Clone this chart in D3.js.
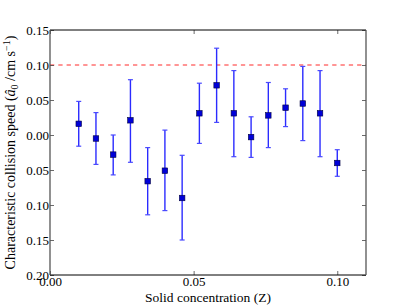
<!DOCTYPE html>
<html>
<head>
<meta charset="utf-8">
<script src="https://cdn.jsdelivr.net/npm/d3@7"></script>
<style>
  body { margin: 0; background: #fff; }
  svg { display: block; }
  svg text { font-family: "Liberation Serif", "Times New Roman", Times, "DejaVu Serif", serif; fill: #000; }
</style>
</head>
<body>
<div id="chart"></div>
<script>
// values
const concentration = [0.010, 0.016, 0.022, 0.028, 0.034, 0.040, 0.046, 0.052,
                       0.058, 0.064, 0.070, 0.076, 0.082, 0.088, 0.094, 0.100];
const speed = [0.016, -0.005, -0.028, 0.021, -0.066, -0.051, -0.090, 0.031,
               0.071, 0.031, -0.003, 0.028, 0.039, 0.045, 0.031, -0.040];
const errLow = [-0.016, -0.042, -0.057, -0.039, -0.114, -0.108, -0.150, -0.012,
                0.018, -0.031, -0.032, -0.018, 0.012, -0.008, -0.031, -0.059];
const errHigh = [0.048, 0.032, 0.000, 0.079, -0.018, 0.007, -0.029, 0.074,
                 0.124, 0.092, 0.026, 0.075, 0.066, 0.098, 0.092, -0.021];
const threshold = 0.10;
const xTicks = [0.00, 0.05, 0.10];
const yTicks = [-0.20, -0.15, -0.10, -0.05, 0.00, 0.05, 0.10, 0.15];

const width = 407, height = 305;
const margin = { left: 50, right: 41, top: 30, bottom: 30 };
const serif = '"Liberation Serif", "Times New Roman", Times, "DejaVu Serif", serif';

const svg = d3.select('#chart')
    .append('svg')
    .attr('width', width)
    .attr('height', height);

const x = d3.scaleLinear().domain([0, 0.11]).range([margin.left, width - margin.right]);
const y = d3.scaleLinear().domain([-0.20, 0.15]).range([height - margin.bottom, margin.top]);

const points = concentration.map((c, i) => ({ c: c, v: speed[i], lo: errLow[i], hi: errHigh[i] }));

// reference line
svg.append('line')
    .attr('x1', x.range()[0]).attr('x2', x.range()[1])
    .attr('y1', y(threshold)).attr('y2', y(threshold))
    .attr('stroke', '#ff2a2a')
    .attr('stroke-width', 1)
    .attr('stroke-dasharray', '4.3,4');

// error bars
const bars = svg.append('g').attr('class', 'errorbars');
bars.selectAll('line.err')
    .data(points)
    .enter()
    .append('line')
    .attr('class', 'err')
    .attr('x1', d => x(d.c)).attr('x2', d => x(d.c))
    .attr('y1', d => y(d.lo)).attr('y2', d => y(d.hi))
    .attr('stroke', '#2b2bff')
    .attr('stroke-width', 1.4);

['lo', 'hi'].forEach(k => {
  bars.selectAll('line.cap-' + k)
      .data(points)
      .enter()
      .append('line')
      .attr('class', 'cap-' + k)
      .attr('x1', d => x(d.c) - 2.5).attr('x2', d => x(d.c) + 2.5)
      .attr('y1', d => y(d[k])).attr('y2', d => y(d[k]))
      .attr('stroke', '#4a4aff')
      .attr('stroke-width', 1.2);
});

// markers
svg.append('g')
    .selectAll('rect')
    .data(points)
    .enter()
    .append('rect')
    .attr('x', d => x(d.c) - 2.75)
    .attr('y', d => y(d.v) - 2.75)
    .attr('width', 5.5)
    .attr('height', 5.5)
    .attr('fill', '#0000d8')
    .attr('stroke', '#000040')
    .attr('stroke-width', 0.6);

// axes (ticks pointing inward on all four sides)
const fmt = d => d3.format('.2f')(Math.abs(d));

const axisStyle = g => {
  g.attr('font-family', serif);
  g.select('.domain').remove();
  g.selectAll('.tick line').attr('stroke', '#444').attr('stroke-width', 0.8);
  g.selectAll('.tick text')
      .style('font-family', serif)
      .attr('font-size', 13)
      .attr('fill', '#000');
};

svg.append('g')
    .attr('transform', `translate(${margin.left},0)`)
    .call(d3.axisLeft(y).tickValues(yTicks).tickFormat(fmt).tickSize(-4).tickPadding(1))
    .call(axisStyle);

svg.append('g')
    .attr('transform', `translate(${width - margin.right},0)`)
    .call(d3.axisRight(y).tickValues(yTicks).tickFormat('').tickSize(-4))
    .call(axisStyle);

svg.append('g')
    .attr('transform', `translate(0,${height - margin.bottom})`)
    .call(d3.axisBottom(x).tickValues(xTicks).tickFormat(d3.format('.2f')).tickSize(-4).tickPadding(2))
    .call(axisStyle);

svg.append('g')
    .attr('transform', `translate(0,${margin.top})`)
    .call(d3.axisTop(x).tickValues(xTicks).tickFormat('').tickSize(-4))
    .call(axisStyle);

// frame
const [x0, x1] = x.range();
const [yb, yt] = y.range();
svg.append('line').attr('x1', x0).attr('x2', x1).attr('y1', yt).attr('y2', yt).attr('stroke', '#000');
svg.append('line').attr('x1', x0).attr('x2', x1).attr('y1', yb).attr('y2', yb).attr('stroke', '#000');
svg.append('line').attr('x1', x0).attr('x2', x0).attr('y1', yt).attr('y2', yb).attr('stroke', '#555').attr('stroke-width', 1.3);
svg.append('line').attr('x1', x1).attr('x2', x1).attr('y1', yt).attr('y2', yb).attr('stroke', '#555').attr('stroke-width', 1.3);

// axis titles
svg.append('text')
    .attr('x', (x0 + x1) / 2)
    .attr('y', height - 3)
    .attr('text-anchor', 'middle')
    .style('font-family', serif)
    .attr('font-size', 13.5)
    .text('Solid concentration (Z)');

const ylab = svg.append('text')
    .attr('transform', `translate(15,${(yt + yb) / 2}) rotate(-90)`)
    .attr('text-anchor', 'middle')
    .style('font-family', serif)
    .attr('font-size', 14);
ylab.append('tspan').text('Characteristic collision speed (');
ylab.append('tspan').attr('font-style', 'italic').text('\u00e2');
ylab.append('tspan').attr('font-size', 10).attr('dy', 3).text('0');
ylab.append('tspan').attr('dy', -3).text(' /cm s');
ylab.append('tspan').attr('font-size', 10).attr('dy', -5).text('\u22121');
ylab.append('tspan').attr('dy', 5).text(')');
</script>
</body>
</html>
